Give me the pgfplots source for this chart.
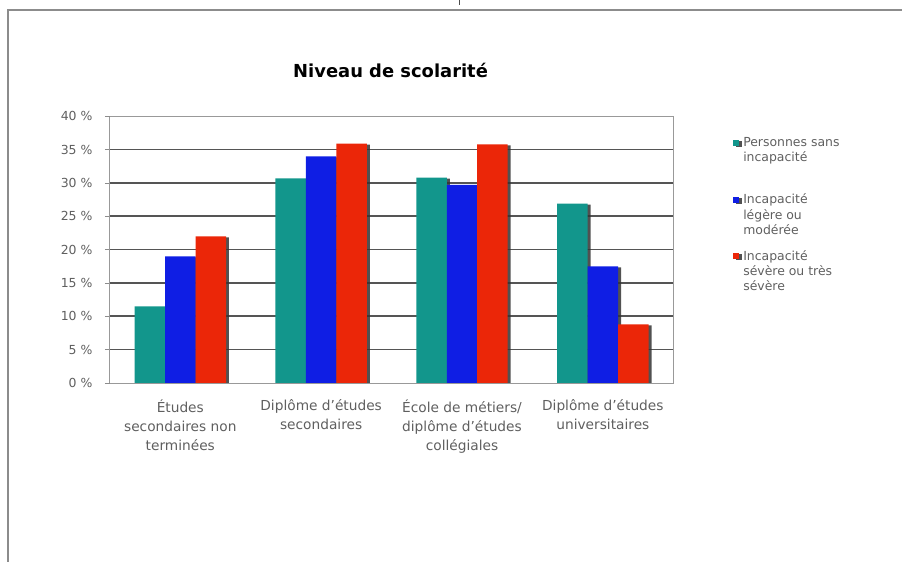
\documentclass[border=0pt]{standalone}
\usepackage{pgfplots}
\pgfplotsset{compat=1.18}
\usepackage{fontspec}
\setmainfont{DejaVu Sans}
\usetikzlibrary{shadows}
\definecolor{cteal}{RGB}{18,150,140}
\definecolor{cblue}{RGB}{15,30,228}
\definecolor{cred}{RGB}{235,38,8}
\definecolor{ctext}{RGB}{95,95,95}
\definecolor{cgrid}{RGB}{85,85,85}

\begin{document}
\begin{tikzpicture}
\begin{axis}[
  name=ax,
  scale only axis, width=564bp, height=267bp,
  xmin=-0.5, xmax=3.5, ymin=0, ymax=40,
  ybar=0pt, bar width=30.5bp,
  axis line style={black!40, line width=0.8bp},
  % horizontal gridlines
  ytick={5,10,...,35},
  yticklabels={5 \%,10 \%,15 \%,20 \%,25 \%,30 \%,35 \%},
  extra y ticks={0,40},
  extra y tick labels={0 \%,40 \%},
  extra y tick style={grid=none},
  ymajorgrids,
  major grid style={cgrid, line width=1.6bp},
  ytick pos=left, xtick pos=bottom,
  tick align=outside,
  major tick length=5bp,
  tick style={black!45, line width=0.8bp},
  yticklabel style={font=\fontsize{12.5}{14}\selectfont, text=ctext, xshift=-9bp},
  % categories
  xtick={0,1,2,3},
  x tick style={draw=none},
  xticklabels={{Études\\secondaires non\\terminées},
               {Diplôme d'études\\secondaires},
               {École de métiers/\\diplôme d'études\\collégiales},
               {Diplôme d'études\\universitaires}},
  xticklabel style={align=center, font=\fontsize{13.8}{19}\selectfont, text=ctext, anchor=north, yshift=-8.5bp},
  extra x ticks={-0.5,0.5,1.5,2.5,3.5},
  extra x tick labels={},
  extra x tick style={major tick length=4bp, tick style={draw=black!45, line width=0.8bp}},
  % title
  title={Niveau de scolarité},
  title style={font=\fontsize{18}{20}\selectfont\bfseries, at={(0.5,1)}, anchor=base, yshift=33bp, xshift=-1bp},
  % legend: one row per series, first text line level with its square
  legend style={at={(1.1,0.935)}, anchor=north west, draw=none, fill=none,
    font=\fontsize{12.5}{15.5}\selectfont, text=ctext,
    nodes={inner sep=1.5bp, text depth=}, row sep=0pt,
    cells={anchor=base west},
    /tikz/every odd column/.append style={column sep=3bp}},
  legend image code/.code={\fill[#1] (0bp,0.8bp) rectangle (6bp,6.8bp);},
  every axis plot/.append style={draw=none,
    drop shadow={shadow xshift=3bp, shadow yshift=-1bp, opacity=0.85, fill=black!80}},
]
\addplot[fill=cteal] coordinates {(0,11.5) (1,30.7) (2,30.8) (3,26.9)};
\addplot[fill=cblue] coordinates {(0,19.0) (1,34.0) (2,29.7) (3,17.5)};
\addplot[fill=cred]  coordinates {(0,22.0) (1,35.9) (2,35.8) (3,8.8)};
\addlegendentry{\parbox[t][53.5bp][t]{120bp}{Personnes sans\\incapacité}}
\addlegendentry{\parbox[t][53.5bp][t]{120bp}{Incapacité\\légère ou\\modérée}}
\addlegendentry{\parbox[t][48bp][t]{120bp}{Incapacité\\sévère ou très\\sévère}}
\end{axis}
% page area and frame, measured from the plot area's lower-left corner
\begin{scope}[shift={(ax.south west)}, x=1bp, y=1bp]
\path (-110,-179) rectangle (793,383);
\draw[black!45, line width=2bp] (-102,-179) -- (-102,373) -- (793,373);
\draw[black!70, line width=0.8bp] (350,383) -- (350,378);
\end{scope}
\end{tikzpicture}
\end{document}
